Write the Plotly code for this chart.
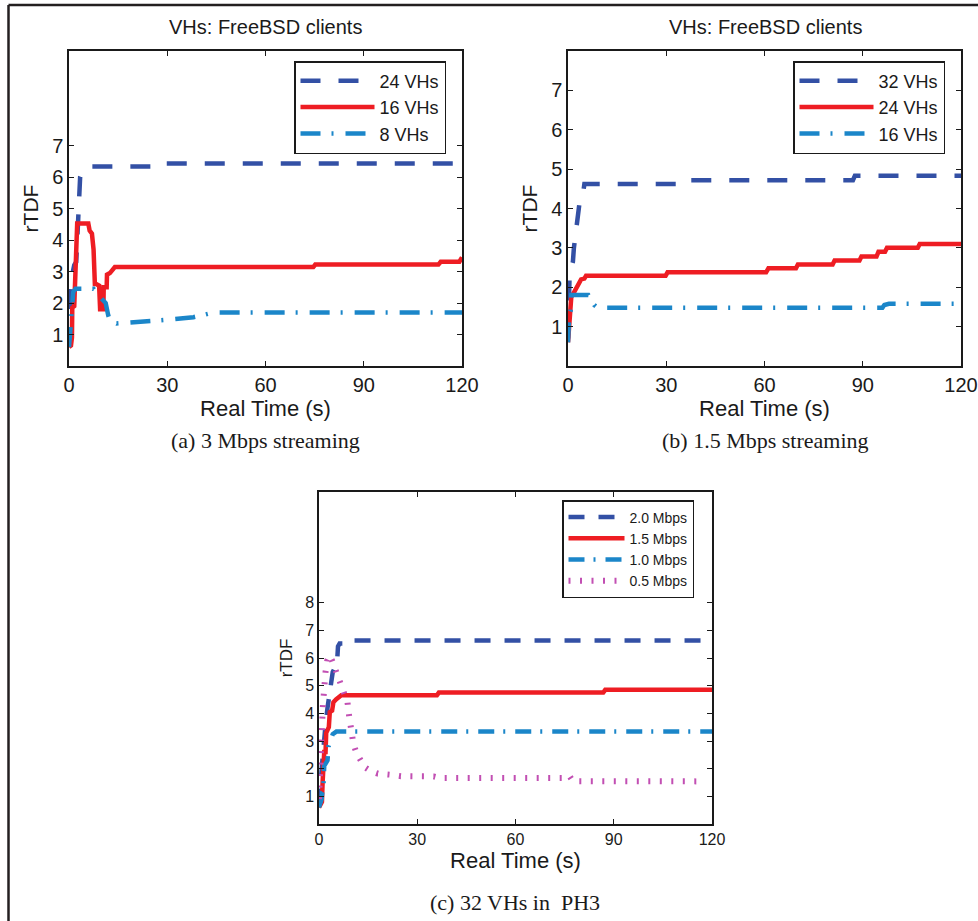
import plotly.graph_objects as go

W, H = 978, 921

# ---------------- data: panel (a) 3 Mbps streaming ----------------
a24_x = [0, 0.1, 0.3, 0.5, 0.6, 1.2, 1.6, 2.2, 2.6, 3.0, 3.4, 4.0, 5.0, 5.5, 27.5, 28.2, 120]
a24_y = [0.6, 1.2, 2.0, 2.2, 2.9, 3.0, 3.2, 3.3, 4.4, 5.5, 6.0, 6.15, 6.2, 6.33, 6.33, 6.43, 6.43]
a16_x = [0, 0.6, 0.9, 1.0, 1.6, 2.5, 5.9, 6.3, 7.0, 7.5, 7.9, 8.3, 9.2, 9.5, 10.5, 10.6, 11.5,
         11.6, 12.5, 13.3, 14.0, 74.6, 75.2, 112.8, 113.5, 119.2, 120]
a16_y = [0.6, 0.65, 0.9, 1.85, 1.9, 4.52, 4.52, 4.3, 4.2, 3.7, 2.6, 2.6, 2.55, 1.8, 1.8, 2.5, 2.5,
         2.9, 2.95, 3.05, 3.14, 3.14, 3.22, 3.22, 3.31, 3.31, 3.45]
a8_x = [0, 0.3, 0.6, 0.9, 1.3, 2.0, 7.5, 8.5, 10.5, 11.2, 12.0, 12.5, 14.5, 20, 25, 30, 35, 38, 41, 44, 120]
a8_y = [0.6, 1.0, 1.4, 2.2, 2.35, 2.45, 2.45, 2.3, 2.05, 2.0, 1.6, 1.45, 1.35, 1.38, 1.43, 1.47, 1.5,
        1.55, 1.62, 1.7, 1.7]

# ---------------- data: panel (b) 1.5 Mbps streaming ----------------
b32_x = [0, 0.3, 0.5, 1.0, 1.5, 1.8, 3.0, 3.3, 3.9, 4.0, 4.8, 5.0, 36.0, 36.6, 87.0, 87.6, 120]
b32_y = [0.7, 1.4, 2.35, 2.5, 2.65, 3.0, 3.65, 4.0, 4.4, 4.45, 4.5, 4.62, 4.62, 4.72, 4.72, 4.83, 4.83]
b24_x = [0, 0.4, 0.8, 1.0, 1.5, 2.0, 2.5, 3.0, 3.5, 4.0, 5.0, 5.5, 29.8, 30.4, 60.5, 61.2, 69.6,
         70.2, 80.8, 81.4, 89.0, 89.6, 94.2, 94.8, 96.8, 97.4, 106.8, 107.4, 120]
b24_y = [0.6, 1.0, 1.3, 1.75, 1.82, 1.9, 2.0, 2.05, 2.1, 2.2, 2.22, 2.29, 2.29, 2.38, 2.38, 2.48, 2.48,
         2.58, 2.58, 2.68, 2.68, 2.78, 2.78, 2.9, 2.9, 3.0, 3.0, 3.1, 3.1]
b16_x = [0, 0.2, 0.4, 0.8, 1.0, 6.2, 6.6, 7.2, 8.0, 9.0, 96.0, 96.6, 98, 120]
b16_y = [0.6, 1.0, 1.3, 1.4, 1.8, 1.8, 1.75, 1.65, 1.55, 1.48, 1.48, 1.55, 1.58, 1.58]

# ---------------- data: panel (c) 32 VHs in PH3 ----------------
c20_x = [0, 0.3, 0.6, 0.9, 1.2, 1.5, 2.0, 2.6, 3.0, 3.6, 4.2, 5.5, 5.8, 6.3, 8.8, 9.3, 120]
c20_y = [0.7, 1.0, 1.6, 2.1, 2.6, 3.0, 3.6, 4.2, 4.6, 5.0, 5.5, 5.8, 6.42, 6.52, 6.52, 6.63, 6.63]
c15_x = [0, 0.5, 0.9, 1.1, 1.3, 1.6, 2.0, 2.2, 3.0, 3.3, 4.0, 4.4, 5.2, 6.0, 6.8, 36.0, 36.6, 86.8, 87.4, 120]
c15_y = [0.6, 0.75, 0.8, 1.5, 2.5, 2.6, 2.6, 3.3, 3.5, 4.05, 4.1, 4.4, 4.5, 4.58, 4.65, 4.65, 4.75,
         4.75, 4.85, 4.85]
c10_x = [0, 0.8, 1.0, 1.3, 1.6, 2.6, 2.9, 3.6, 4.2, 5.3, 120]
c10_y = [0.6, 0.9, 1.15, 1.2, 2.1, 2.3, 2.8, 3.1, 3.25, 3.34, 3.34]
c05_x = [0, 0.3, 0.6, 0.9, 1.2, 1.5, 2.0, 2.5, 3.2, 4.0, 5.0, 6.0, 7.0, 8.0, 8.7, 9.2, 9.8, 10.5,
         11.5, 13, 14, 16, 18, 22, 25, 35, 37, 75.8, 76.5, 77.5, 117]
c05_y = [0.9, 1.5, 2.5, 3.5, 4.3, 5.0, 5.5, 5.9, 6.1, 5.9, 5.6, 5.3, 5.0, 4.7, 4.4, 3.9, 3.4, 2.9,
         2.55, 2.25, 2.05, 1.9, 1.82, 1.78, 1.73, 1.72, 1.66, 1.66, 1.73, 1.55, 1.54]

x_ticks = [0, 30, 60, 90, 120]
ab_y_ticks = [1, 2, 3, 4, 5, 6, 7]
c_y_ticks = [1, 2, 3, 4, 5, 6, 7, 8]

BLUE = "#3350a5"
RED = "#ee1d23"
LBLUE = "#1b86c9"
MAG = "#c24fb3"
INK = "#1a1a1a"
SANS = "Liberation Sans, Arial, sans-serif"
SERIF = "Liberation Serif, Times New Roman, serif"

fig = go.Figure()


def add(x, y, name, color, dash, width, xa, ya, leg):
    fig.add_trace(go.Scatter(x=x, y=y, name=name, mode="lines",
                             line=dict(color=color, dash=dash, width=width),
                             xaxis=xa, yaxis=ya, legend=leg))


DASH_AB = "20px,18px"
DASHDOT_AB = "20px,11px,2px,12px"
add(a24_x, a24_y, "24 VHs", BLUE, DASH_AB, 4.5, "x", "y", "legend")
add(a16_x, a16_y, "16 VHs", RED, "solid", 4.5, "x", "y", "legend")
add(a8_x, a8_y, "8 VHs", LBLUE, DASHDOT_AB, 4.5, "x", "y", "legend")

add(b32_x, b32_y, "32 VHs", BLUE, DASH_AB, 4.5, "x2", "y2", "legend2")
add(b24_x, b24_y, "24 VHs", RED, "solid", 4.5, "x2", "y2", "legend2")
add(b16_x, b16_y, "16 VHs", LBLUE, DASHDOT_AB, 4.5, "x2", "y2", "legend2")

add(c20_x, c20_y, "2.0 Mbps", BLUE, "16px,14px", 4.5, "x3", "y3", "legend3")
add(c15_x, c15_y, "1.5 Mbps", RED, "solid", 4.5, "x3", "y3", "legend3")
add(c10_x, c10_y, "1.0 Mbps", LBLUE, "16px,9px,2px,10px", 4.5, "x3", "y3", "legend3")
add(c05_x, c05_y, "0.5 Mbps", MAG, "2px,9.5px", 6, "x3", "y3", "legend3")


def px_x(p):
    return p / W


def px_y(p):
    return 1 - p / H


def axis_common(size):
    return dict(showline=True, linecolor=INK, linewidth=1.5, mirror="ticks",
                ticks="inside", ticklen=5, tickwidth=1, tickcolor=INK, automargin=False,
                showgrid=False, zeroline=False, tickfont=dict(family=SANS, size=size, color=INK))


def xaxis(dom, anchor, size):
    d = axis_common(size)
    d.update(domain=dom, anchor=anchor, range=[0, 120], tickvals=x_ticks,
             title=dict(text="Real Time (s)", font=dict(family=SANS, size=22, color=INK), standoff=4))
    return d


def yaxis(dom, anchor, rng, tv, size, tsize, standoff):
    d = axis_common(size)
    d.update(domain=dom, anchor=anchor, range=rng, tickvals=tv,
             title=dict(text="rTDF", font=dict(family=SANS, size=tsize, color=INK), standoff=standoff))
    return d


def legend_box(x, y, size, itemw):
    return dict(x=px_x(x), y=px_y(y), xanchor="left", yanchor="top",
                bordercolor=INK, borderwidth=1.5, bgcolor="white",
                font=dict(family=SANS, size=size, color=INK), itemwidth=itemw)


ab_ydom = [px_y(366), px_y(51)]
c_ydom = [px_y(824), px_y(492)]

fig.update_layout(
    width=W, height=H, margin=dict(l=0, r=0, t=0, b=0, pad=0, autoexpand=False), autosize=False,
    paper_bgcolor="white", plot_bgcolor="white",
    xaxis=xaxis([px_x(69), px_x(462)], "y", 20),
    yaxis=yaxis(ab_ydom, "x", [0, 10], ab_y_ticks, 20, 21, 8),
    xaxis2=xaxis([px_x(568), px_x(961)], "y2", 20),
    yaxis2=yaxis(ab_ydom, "x2", [0, 8], ab_y_ticks, 20, 21, 8),
    xaxis3=xaxis([px_x(319), px_x(712)], "y3", 16),
    yaxis3=yaxis(c_ydom, "x3", [0, 12], c_y_ticks, 16, 17, 8),
    legend=legend_box(294, 61, 18, 74),
    legend2=legend_box(793, 61, 18, 74),
    legend3=legend_box(562, 500, 14, 56),
)

texts = [
    ("VHs: FreeBSD clients", 265, 27, SANS, 20),
    ("VHs: FreeBSD clients", 765, 27, SANS, 20),
    ("(a) 3 Mbps streaming", 265, 440, SERIF, 22),
    ("(b) 1.5 Mbps streaming", 765, 440, SERIF, 22),
    ("(c) 32 VHs in  PH3", 515, 902, SERIF, 22),
]
for t, x, y, fam, sz in texts:
    fig.add_annotation(text=t, x=px_x(x), y=px_y(y), xref="paper", yref="paper",
                       xanchor="center", yanchor="middle", showarrow=False,
                       font=dict(family=fam, size=sz, color=INK))

# outer frame (left and top edges)
fig.add_shape(type="line", xref="paper", yref="paper", x0=px_x(8.5), y0=0, x1=px_x(8.5), y1=px_y(5),
              line=dict(color="#231f20", width=2.5))
fig.add_shape(type="line", xref="paper", yref="paper", x0=px_x(8.5), y0=px_y(5), x1=1, y1=px_y(5),
              line=dict(color="#231f20", width=2.5))

page_fix = ("document.documentElement.style.margin='0';document.body.style.margin='0';"
            "document.documentElement.style.overflow='hidden';document.body.style.overflow='hidden';")
fig.write_html("out.html", post_script=page_fix)
